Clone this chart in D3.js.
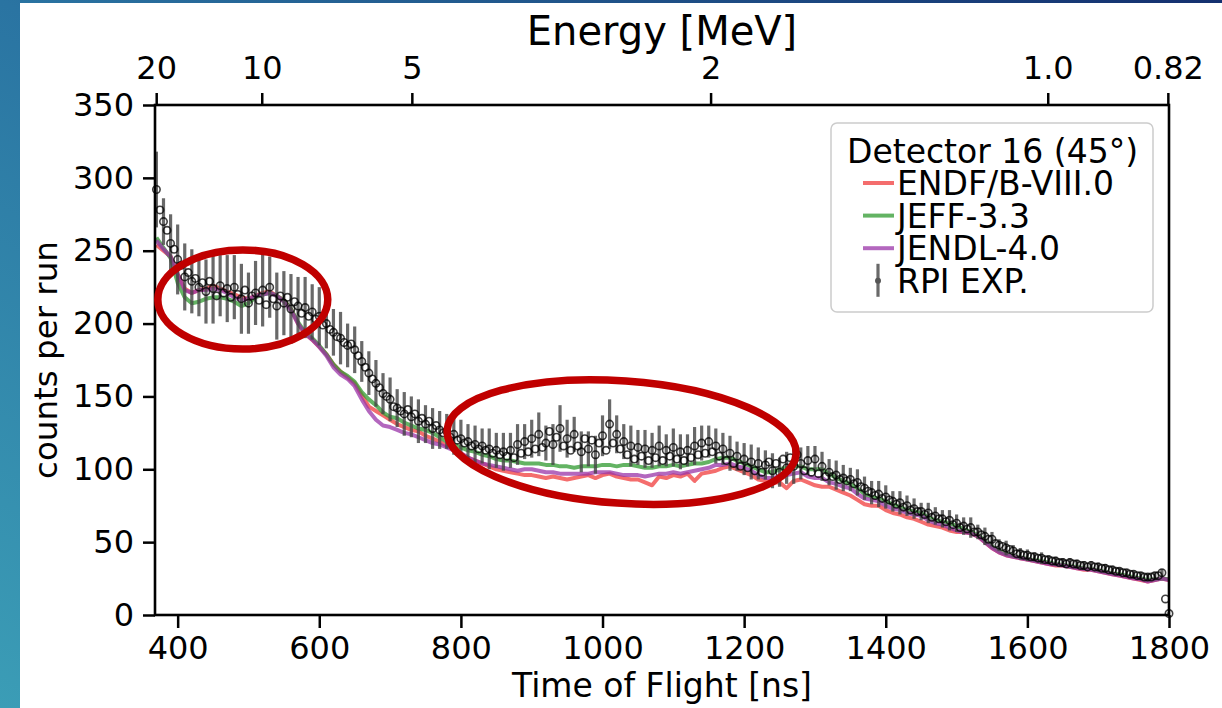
<!DOCTYPE html>
<html>
<head>
<meta charset="utf-8">
<script src="https://cdn.jsdelivr.net/npm/d3@7"></script>
<style>
  html, body { margin: 0; padding: 0; }
  body { width: 1222px; height: 708px; overflow: hidden; }
  svg { display: block; }
  text { font-family: "DejaVu Sans", sans-serif; fill: #000; }
</style>
</head>
<body>
<svg id="chart" width="1222" height="708"></svg>
<script>
// ---- Time-of-flight grids (ns) ----
const tofModel = d3.range(370, 1801, 10);   // evaluated libraries, 10 ns bins
const tofExp = d3.range(370, 1801, 5);      // measured points, 5 ns bins

// ---- Evaluated-library predictions (counts per run) ----
const endf = [
  254,250,246,234,224,221,223,224,226,224,
  222,220,218,217,219,221,222,219,216,210,
  200,193,189,184,179,172,167,163,159,151,
  143,140,137,134,131,129,127,126,123,121,
  119,116,114,111,108,106,104,102,100,99,
  98,97,96,96,95,94,95,94,93,94,
  95,96,94,96,97,95,94,93,93,91,
  89,95,94,96,95,97,92,97,98,99,
  101,102,100,98,96,93,92,91,91,87,
  92,93,91,89,88,88,86,84,82,79,
  76,75,75,72,70,69,67,66,64,62,
  61,60,58,57,57,56,54,50,46,43,
  41,40,39,38,37,36,35,34,34,33,
  32,31,31,30,29,28,27,26,25,24,
  23,24,25,24
];
const jeff = [
  259,252,245,228,218,214,215,217,218,218,
  217,215,212,214,218,220,221,219,216,210,
  201,194,190,185,179,172,167,164,160,153,
  148,144,139,136,135,132,130,128,127,125,
  122,119,117,115,113,112,110,109,107,106,
  106,105,104,104,104,103,103,102,102,101,
  102,102,102,103,103,102,103,103,102,101,
  101,102,102,103,102,103,104,104,105,107,
  108,108,106,104,102,100,98,98,100,101,
  102,102,100,100,100,97,94,92,90,87,
  83,81,80,78,76,74,72,71,70,67,
  65,64,63,61,59,57,55,51,47,44,
  42,40.5,39.5,38.5,37.5,37,36,35,34.5,33.5,
  33,32,31.5,30.5,29.5,28.5,28,27,26,25,
  24,24.5,25,24.5
];
const jendl = [
  257,251,246,234,223,221,223,223,224,223,
  221,218,216,217,219,220,221,219,215,209,
  200,193,189,184,178,170,165,162,157,148,
  140,134,130,129,127,125,124,122,120,118,
  117,115,113,111,108,106,104,103,102,101,
  100,99,100,100,99,98,98,97,97,97,
  97,97,98,98,98,97,96,96,96,95,
  96,97,97,98,97,98,99,100,101,103,
  103,104,102,101,99,96,94,94,95,96,
  97,98,95,94,94,91,90,88,87,83,
  80,79,78,75,73,72,70,69,68,65,
  63,62,60,58,57,56,54,50,46,43,
  41,40,39,38,37,36,35,34.5,34,33,
  32,31.5,31,30,29,28,27,26,25,24.5,
  23,24,25,24
];

// ---- RPI measurement (counts per run) and uncertainty on every 10 ns ----
const rpiExp = [
  292,278,270,264,255,251,244,240,232,235,
  229,231,225,228,222,229,224,219,226,221,
  224,218,225,220,217,223,214,219,221,216,
  223,213,225,217,212,219,214,218,210,215,
  212,207,211,205,208,203,205,199,200,196,
  194,191,190,187,185,186,182,178,174,170,
  166,162,159,156,152,150,148,143,142,140,
  138,141,136,138,133,135,131,133,128,130,
  127,125,126,122,124,120,121,118,119,116,
  117,114,116,113,114,111,113,110,112,109,
  113,108,117,111,119,112,121,114,124,115,
  118,126,117,122,128,116,121,113,124,116,
  112,121,114,120,110,118,123,113,131,118,
  124,114,119,110,116,107,115,109,114,106,
  113,108,116,106,113,109,115,107,112,106,
  113,108,116,110,118,111,119,112,116,109,
  114,106,111,104,109,102,107,101,105,99,
  104,98,103,105,99,104,98,107,101,108,
  102,110,104,99,106,98,107,97,102,95,
  98,95,96,93,94,92,93,90,91,88,
  87,85,84,82,83,80,81,79,78,76,
  77,74,75,72,73,71,71,69,70,67,
  68,66,66,64,65,62,63,60,61,59,
  60,57,57,55,54,52,52,49,48,47,
  46,45,44,42,42,41,41,40,40,39,
  39,38,38,37,37,36,36,35,36,35,
  35,34,34,33,34,33,33,32,32,31,
  31,30,30,29,29,28,28,27,27,26,
  26,26,27,27,29,11,1
];
const rpiErr = [
  26,16,20,24,23,22,20,22,24,21,
  23,22,24,21,22,25,21,23,22,24,
  20,21,19,20,17,16,18,15,16,14,
  15,16,14,15,13,15,14,15,13,14,
  13,12,14,13,12,13,12,14,12,13,
  12,14,12,13,15,12,14,16,13,12,
  14,12,13,14,17,13,12,14,12,13,
  12,14,11,13,12,11,13,12,11,12,
  11,12,10,11,12,11,10,12,10,11,
  12,11,10,9,10,9,10,9,8,9,
  8,8,9,8,7,8,7,7,6,7,
  6,6,7,6,6,7,5,6,5,4,
  5,4,4,4,3,4,3,3,3,3,
  3,3,3,3,3,2.5,2.5,2.5,2.5,2.5,
  2.5,2.5,2.5,1
];

// ---- Axis ticks ----
const tofTicks = [400, 600, 800, 1000, 1200, 1400, 1600, 1800];
const countTicks = [0, 50, 100, 150, 200, 250, 300, 350];
const energyTicks = [20, 10, 5, 2, 1.0, 0.82];          // MeV
const energyTickLabels = ["20", "10", "5", "2", "1.0", "0.82"];

// ---- Series labels ----
const seriesNames = ["ENDF/B-VIII.0", "JEFF-3.3", "JENDL-4.0"];
const expName = "RPI EXP.";
const legendTitle = "Detector 16 (45\u00B0)";

// ---- Highlighted regions (centre and half-axes in data units, tilt in degrees) ----
const regionTof = [492, 1027];
const regionCounts = [216.5, 118.7];
const regionHalfTof = [120, 247];
const regionHalfCounts = [34, 42];
const regionTilt = [0, 4];

// relativistic neutron flight time for the top energy axis
const flightPathM = 22.51;
const neutronMassMeV = 939.565;
const cMperNs = 0.299792458;
function tofFromEnergy(E) {
  const gamma = 1 + E / neutronMassMeV;
  const beta = Math.sqrt(1 - 1 / (gamma * gamma));
  return flightPathM / (cMperNs * beta);
}

const svg = d3.select("#chart");

// slide backdrop
const defs = svg.append("defs");
const grad = defs.append("linearGradient").attr("id", "slideBg")
  .attr("x1", 0).attr("y1", 1).attr("x2", 1).attr("y2", 0);
grad.append("stop").attr("offset", 0).attr("stop-color", "#3b9db6");
grad.append("stop").attr("offset", 0.5).attr("stop-color", "#2a74a2");
grad.append("stop").attr("offset", 1).attr("stop-color", "#14306f");
svg.append("rect").attr("width", 1222).attr("height", 708).attr("fill", "url(#slideBg)");
svg.append("rect").attr("x", 20).attr("y", 3).attr("width", 1202).attr("height", 705).attr("fill", "#fff");

const plot = { left: 155, right: 1169, top: 105, bottom: 615 };
const x = d3.scaleLinear().domain([368, 1800]).range([plot.left, plot.right]);
const y = d3.scaleLinear().domain([0, 350]).range([plot.bottom, plot.top]);

defs.append("clipPath").attr("id", "plotClip").append("rect")
  .attr("x", plot.left).attr("y", plot.top)
  .attr("width", plot.right - plot.left).attr("height", plot.bottom - plot.top);

const colors = ["#f03c3c", "#2f9a2f", "#9a34a8"];
const models = [endf, jeff, jendl];

const dataLayer = svg.append("g").attr("clip-path", "url(#plotClip)");

// library curves
const line = d3.line().x((d, i) => x(tofModel[i])).y(d => y(d));
models.forEach((vals, k) => {
  dataLayer.append("path")
    .datum(vals)
    .attr("d", line)
    .attr("fill", "none")
    .attr("stroke", colors[k])
    .attr("stroke-opacity", 0.75)
    .attr("stroke-width", 4)
    .attr("stroke-linejoin", "round");
});

// error bars on every other measured point
const errIdx = d3.range(0, rpiExp.length, 2);
dataLayer.append("g").selectAll("line")
  .data(errIdx)
  .join("line")
  .attr("x1", i => x(tofExp[i])).attr("x2", i => x(tofExp[i]))
  .attr("y1", i => y(rpiExp[i] - rpiErr[i / 2]))
  .attr("y2", i => y(rpiExp[i] + rpiErr[i / 2]))
  .attr("stroke", "#444")
  .attr("stroke-opacity", 0.8)
  .attr("stroke-width", 3.2);

// measured points
svg.append("g").selectAll("circle")
  .data(rpiExp)
  .join("circle")
  .attr("cx", (d, i) => x(tofExp[i]))
  .attr("cy", d => y(d))
  .attr("r", 3.7)
  .attr("fill", "none")
  .attr("stroke", "#000")
  .attr("stroke-opacity", 0.75)
  .attr("stroke-width", 1.6);

// axes
const tickFont = 32;
function styleAxis(g) {
  g.select(".domain").remove();
  g.selectAll(".tick line").attr("stroke", "#000").attr("stroke-width", 2.5);
  g.selectAll(".tick text").attr("font-size", tickFont).attr("font-family", "DejaVu Sans").attr("fill", "#000");
}
svg.append("g").attr("transform", `translate(0,${plot.bottom})`)
  .call(d3.axisBottom(x).tickValues(tofTicks).tickFormat(d3.format("d")).tickSize(13).tickPadding(8))
  .call(styleAxis);
svg.append("g").attr("transform", `translate(${plot.left},0)`)
  .call(d3.axisLeft(y).tickValues(countTicks).tickFormat(d3.format("d")).tickSize(12).tickPadding(9))
  .call(styleAxis);
svg.append("g").attr("transform", `translate(0,${plot.top})`)
  .call(d3.axisTop(x).tickValues(energyTicks.map(tofFromEnergy))
    .tickFormat((d, i) => energyTickLabels[i]).tickSize(12).tickPadding(14))
  .call(styleAxis);

// frame
svg.append("rect")
  .attr("x", plot.left).attr("y", plot.top)
  .attr("width", plot.right - plot.left).attr("height", plot.bottom - plot.top)
  .attr("fill", "none").attr("stroke", "#000").attr("stroke-width", 2.6);

// axis titles
svg.append("text").attr("x", (plot.left + plot.right) / 2).attr("y", 697)
  .attr("text-anchor", "middle").attr("font-size", 33).text("Time of Flight [ns]");
svg.append("text").attr("x", (plot.left + plot.right) / 2).attr("y", 45)
  .attr("text-anchor", "middle").attr("font-size", 40).text("Energy [MeV]");
svg.append("text").attr("transform", `translate(57,${(plot.top + plot.bottom) / 2}) rotate(-90)`)
  .attr("text-anchor", "middle").attr("font-size", 32.5).text("counts per run");

// legend
const lg = svg.append("g");
lg.append("rect").attr("x", 831).attr("y", 123).attr("width", 322).attr("height", 189).attr("rx", 6)
  .attr("fill", "#fff").attr("fill-opacity", 0.85).attr("stroke", "#cccccc").attr("stroke-width", 1.5);
lg.append("text").attr("x", 847).attr("y", 163).attr("font-size", 33).text(legendTitle);
const rowY = [195, 227.6, 260.2, 292.8];
seriesNames.forEach((name, k) => {
  lg.append("line").attr("x1", 863).attr("x2", 894).attr("y1", rowY[k] - 12).attr("y2", rowY[k] - 12)
    .attr("stroke", colors[k]).attr("stroke-opacity", 0.75).attr("stroke-width", 4);
  lg.append("text").attr("x", 897).attr("y", rowY[k]).attr("font-size", 33).text(name);
});
lg.append("line").attr("x1", 878).attr("x2", 878).attr("y1", rowY[3] - 29).attr("y2", rowY[3] + 4)
  .attr("stroke", "#444").attr("stroke-opacity", 0.8).attr("stroke-width", 3.2);
lg.append("circle").attr("cx", 878).attr("cy", rowY[3] - 12).attr("r", 3).attr("fill", "#555");
lg.append("text").attr("x", 897).attr("y", rowY[3]).attr("font-size", 33).text(expName);

// highlighted regions
svg.append("g").selectAll("ellipse")
  .data(regionTof)
  .join("ellipse")
  .attr("transform", (d, i) => `translate(${x(d)},${y(regionCounts[i])}) rotate(${regionTilt[i]})`)
  .attr("rx", (d, i) => x(d + regionHalfTof[i]) - x(d))
  .attr("ry", (d, i) => y(regionCounts[i] - regionHalfCounts[i]) - y(regionCounts[i]))
  .attr("fill", "none")
  .attr("stroke", "#c00000")
  .attr("stroke-width", 7.5);
</script>
</body>
</html>
